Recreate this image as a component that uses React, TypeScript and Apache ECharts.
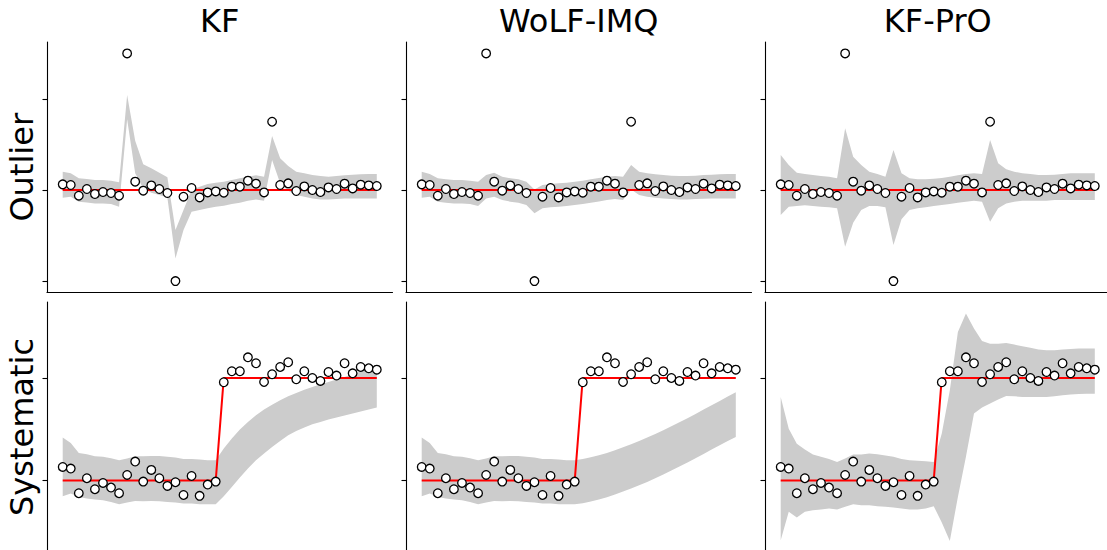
import React, { useEffect, useRef } from "react";
import * as echarts from "echarts";

const methods = ["KF", "WoLF-IMQ", "KF-PrO"];
const scenarios = ["Outlier", "Systematic"];

const steps = [0,1,2,3,4,5,6,7,8,9,10,11,12,13,14,15,16,17,18,19,20,21,22,23,24,25,26,27,28,29,30,31,32,33,34,35,36,37,38,39];

// Outlier scenario
const obsOutlier = [0.62,0.55,-0.62,0.11,-0.44,-0.22,-0.33,-0.62,15.0,0.92,-0.07,0.51,0.11,-0.33,-10.0,-0.73,0.22,-0.81,-0.26,-0.15,-0.29,0.37,0.37,1.03,0.70,-0.26,7.5,0.55,0.73,-0.11,0.40,0.0,-0.22,0.29,0.11,0.70,0.18,0.59,0.51,0.44];
const truthOutlier = [0,0,0,0,0,0,0,0,0,0,0,0,0,0,0,0,0,0,0,0,0,0,0,0,0,0,0,0,0,0,0,0,0,0,0,0,0,0,0,0];

const kfOutHi = [2.01,1.83,1.28,1.21,1.10,1.10,1.03,0.84,10.44,5.42,2.82,2.38,1.90,1.39,-4.40,-2.20,0.00,0.37,0.66,0.81,0.92,1.10,1.28,1.47,1.61,1.47,5.93,3.48,2.64,2.01,1.83,1.65,1.54,1.47,1.54,1.61,1.68,1.72,1.76,1.76];
const kfOutLo = [-0.84,-0.73,-1.28,-1.36,-1.47,-1.47,-1.54,-1.83,7.77,1.83,0.18,-0.29,-0.55,-0.84,-7.51,-4.40,-2.38,-2.20,-2.01,-1.83,-1.72,-1.54,-1.39,-1.17,-1.03,-1.17,3.30,0.73,-0.07,-0.55,-0.73,-0.92,-1.03,-1.03,-0.99,-0.92,-0.92,-0.92,-0.92,-0.92];

const wolfOutHi = [2.01,1.76,1.28,1.17,1.10,1.10,1.03,0.92,1.65,1.90,1.47,1.28,1.17,0.92,0.07,0.55,0.66,0.73,0.81,0.92,1.03,1.17,1.32,1.47,1.54,1.47,2.75,2.01,1.83,1.72,1.65,1.58,1.54,1.54,1.58,1.65,1.68,1.72,1.76,1.76];
const wolfOutLo = [-0.84,-0.73,-1.28,-1.39,-1.47,-1.47,-1.54,-1.76,-0.92,-0.73,-1.10,-1.28,-1.39,-1.65,-2.56,-2.01,-1.90,-1.83,-1.76,-1.65,-1.54,-1.39,-1.25,-1.10,-0.99,-1.10,0.07,-0.55,-0.73,-0.84,-0.92,-0.99,-1.03,-1.03,-0.99,-0.95,-0.92,-0.92,-0.92,-0.92];

const proOutHi = [3.85,2.75,1.90,1.76,1.65,1.54,1.47,1.28,6.78,3.66,2.75,2.01,1.76,1.47,4.40,1.83,1.28,1.17,1.17,1.25,1.32,1.47,1.61,1.76,1.83,1.76,5.49,2.93,2.27,2.01,1.83,1.76,1.65,1.65,1.68,1.76,1.83,1.83,1.83,1.83];
const proOutLo = [-2.75,-1.83,-1.76,-1.68,-1.76,-1.83,-1.90,-2.01,-6.23,-3.59,-2.20,-1.76,-1.76,-1.90,-6.04,-3.22,-2.20,-2.01,-1.90,-1.76,-1.65,-1.54,-1.39,-1.28,-1.17,-1.28,-3.48,-2.01,-1.47,-1.28,-1.17,-1.17,-1.17,-1.17,-1.10,-1.10,-1.10,-1.10,-1.10,-1.10];

// Systematic scenario
const obsSystematic = [1.33,1.17,-1.23,0.23,-0.84,-0.23,-0.68,-1.23,0.55,1.85,-0.10,1.04,0.23,-0.52,-0.16,-1.40,0.45,-1.49,-0.39,-0.10,9.58,10.65,10.65,12.01,11.43,9.61,10.36,11.07,11.53,9.87,10.65,10.0,9.71,10.58,10.23,11.43,10.45,11.07,10.94,10.81];
const truthSystematic = [0,0,0,0,0,0,0,0,0,0,0,0,0,0,0,0,0,0,0,0,10,10,10,10,10,10,10,10,10,10,10,10,10,10,10,10,10,10,10,10];

const kfSysHi = [4.19,3.67,2.69,2.56,2.37,2.31,2.18,1.98,2.14,2.37,2.37,2.40,2.40,2.31,2.24,2.11,2.11,2.05,1.98,1.98,3.12,4.09,4.97,5.71,6.36,6.92,7.40,7.82,8.21,8.54,8.86,9.12,9.38,9.61,9.84,10.10,10.36,10.62,10.84,11.07];
const kfSysLo = [-1.53,-1.27,-1.59,-1.75,-1.85,-1.92,-2.08,-2.31,-2.14,-1.98,-2.01,-1.98,-2.01,-2.08,-2.14,-2.24,-2.24,-2.31,-2.31,-2.31,-1.53,-0.62,0.29,1.17,1.98,2.63,3.28,3.86,4.42,4.84,5.16,5.49,5.71,5.94,6.14,6.33,6.53,6.72,6.92,7.11];

const wolfSysHi = [4.19,3.67,2.69,2.56,2.37,2.31,2.18,1.98,2.14,2.37,2.37,2.40,2.40,2.31,2.24,2.11,2.11,2.05,1.98,1.98,2.11,2.27,2.47,2.69,2.95,3.25,3.54,3.86,4.19,4.55,4.90,5.29,5.68,6.07,6.49,6.92,7.34,7.76,8.18,8.60];
const wolfSysLo = [-1.53,-1.27,-1.59,-1.75,-1.85,-1.92,-2.08,-2.31,-2.14,-1.98,-2.01,-1.98,-2.01,-2.08,-2.14,-2.24,-2.24,-2.31,-2.31,-2.31,-2.21,-2.05,-1.85,-1.62,-1.36,-1.07,-0.78,-0.45,-0.13,0.23,0.58,0.97,1.36,1.75,2.18,2.60,3.02,3.44,3.86,4.25];

const proSysHi = [8.15,5.06,3.60,3.02,2.53,2.31,2.11,1.82,2.14,2.53,2.53,2.63,2.56,2.44,2.31,2.11,1.98,1.92,1.88,1.82,4.58,8.80,14.48,16.27,14.81,13.60,13.34,13.34,13.41,13.25,13.08,12.95,12.76,12.69,12.69,12.76,12.82,12.86,12.86,12.86];
const proSysLo = [-5.81,-3.05,-3.60,-3.05,-2.89,-2.82,-2.73,-2.82,-2.56,-2.31,-2.40,-2.40,-2.50,-2.56,-2.63,-2.73,-2.82,-2.82,-2.73,-2.50,-4.09,-5.88,-1.59,2.31,6.53,7.11,7.50,7.89,8.25,8.21,8.15,8.15,8.15,8.15,8.21,8.31,8.38,8.44,8.47,8.47];

const yTicksOutlier = [-10, 0, 10];
const yTicksSystematic = [0, 10];

const rowObs = [obsOutlier, obsSystematic];
const rowTruth = [truthOutlier, truthSystematic];
const rowTicks = [yTicksOutlier, yTicksSystematic];
const bands = [
  [[kfOutLo, kfOutHi], [wolfOutLo, wolfOutHi], [proOutLo, proOutHi]],
  [[kfSysLo, kfSysHi], [wolfSysLo, wolfSysHi], [proSysLo, proSysHi]],
];

export default function App() {
  const ref = useRef<HTMLDivElement>(null);
  useEffect(() => {
    const chart = echarts.init(ref.current!, null, { renderer: "svg" });
    const FONT = '"DejaVu Sans", sans-serif';
    const panelLeft = 47;
    const panelStep = 359;
    const panelW = 345.5;
    const rowTop = [42, 302];
    const rowH = [250.5, 250];
    const yMin = [-11.25, -6.96];
    const yMax = [16.25, 17.4];

    const grids: any[] = [];
    const xAxes: any[] = [];
    const yAxes: any[] = [];
    const series: any[] = [];
    for (let r = 0; r < 2; r++) {
      for (let c = 0; c < 3; c++) {
        const i = r * 3 + c;
        grids.push({ left: panelLeft + panelStep * c, top: rowTop[r], width: panelW, height: rowH[r] });
        xAxes.push({
          gridIndex: i, type: "value", min: -1.95, max: 40.95,
          axisLine: { show: true, onZero: false, lineStyle: { color: "#000", width: 1.1 } },
          axisTick: { show: false }, axisLabel: { show: false }, splitLine: { show: false },
        });
        yAxes.push({
          gridIndex: i, type: "value", min: yMin[r], max: yMax[r],
          axisLine: { show: true, onZero: false, lineStyle: { color: "#000", width: 1.1 } },
          axisTick: { show: true, inside: false, length: 4.5, customValues: rowTicks[r], lineStyle: { color: "#000", width: 1.1 } },
          axisLabel: { show: false, customValues: rowTicks[r] },
          splitLine: { show: false },
        });
        const [lo, hi] = bands[r][c];
        const bandData = steps.map((x, k) => [x, lo[k], hi[k]]);
        series.push({
          type: "custom", xAxisIndex: i, yAxisIndex: i, silent: true, z: 1,
          data: bandData,
          encode: { x: 0, y: [1, 2] },
          renderItem: (params: any, api: any) => {
            if (params.dataIndex !== 0) return { type: "group", children: [] };
            const upper = bandData.map((d) => api.coord([d[0], d[2]]));
            const lower = bandData.map((d) => api.coord([d[0], d[1]])).reverse();
            return {
              type: "polygon",
              shape: { points: upper.concat(lower) },
              style: { fill: "#cccccc", stroke: "none" },
            };
          },
        });
        series.push({
          type: "line", xAxisIndex: i, yAxisIndex: i,
          data: steps.map((x, k) => [x, rowTruth[r][k]]), symbol: "none", silent: true,
          lineStyle: { color: "#ff0000", width: 2 }, z: 2,
        });
        series.push({
          type: "scatter", xAxisIndex: i, yAxisIndex: i,
          data: steps.map((x, k) => [x, rowObs[r][k]]), symbol: "circle", symbolSize: 8.6,
          itemStyle: { color: "#ffffff", borderColor: "#000000", borderWidth: 1.3, opacity: 1 }, z: 3,
        });
      }
    }

    const graphics: any[] = [];
    methods.forEach((m, c) => {
      graphics.push({
        type: "text", x: panelLeft + panelStep * c + panelW / 2, y: 20.8,
        style: { text: m, font: `32px ${FONT}`, fill: "#000", align: "center", verticalAlign: "middle", textAlign: "center", textVerticalAlign: "middle" },
      });
    });
    scenarios.forEach((s, r) => {
      graphics.push({
        type: "text", x: 22, y: rowTop[r] + rowH[r] / 2, rotation: Math.PI / 2,
        style: { text: s, font: `32px ${FONT}`, fill: "#000", align: "center", verticalAlign: "middle", textAlign: "center", textVerticalAlign: "middle" },
      });
    });

    chart.setOption({
      animation: false,
      backgroundColor: "#ffffff",
      grid: grids,
      xAxis: xAxes,
      yAxis: yAxes,
      series,
      graphic: graphics,
    });
    return () => chart.dispose();
  }, []);
  return (
    <div style={{ position: "absolute", left: 0, top: 0, width: 1107, height: 550, overflow: "hidden", background: "#fff" }}>
      <div ref={ref} style={{ width: 1115, height: 560 }} />
    </div>
  );
}
